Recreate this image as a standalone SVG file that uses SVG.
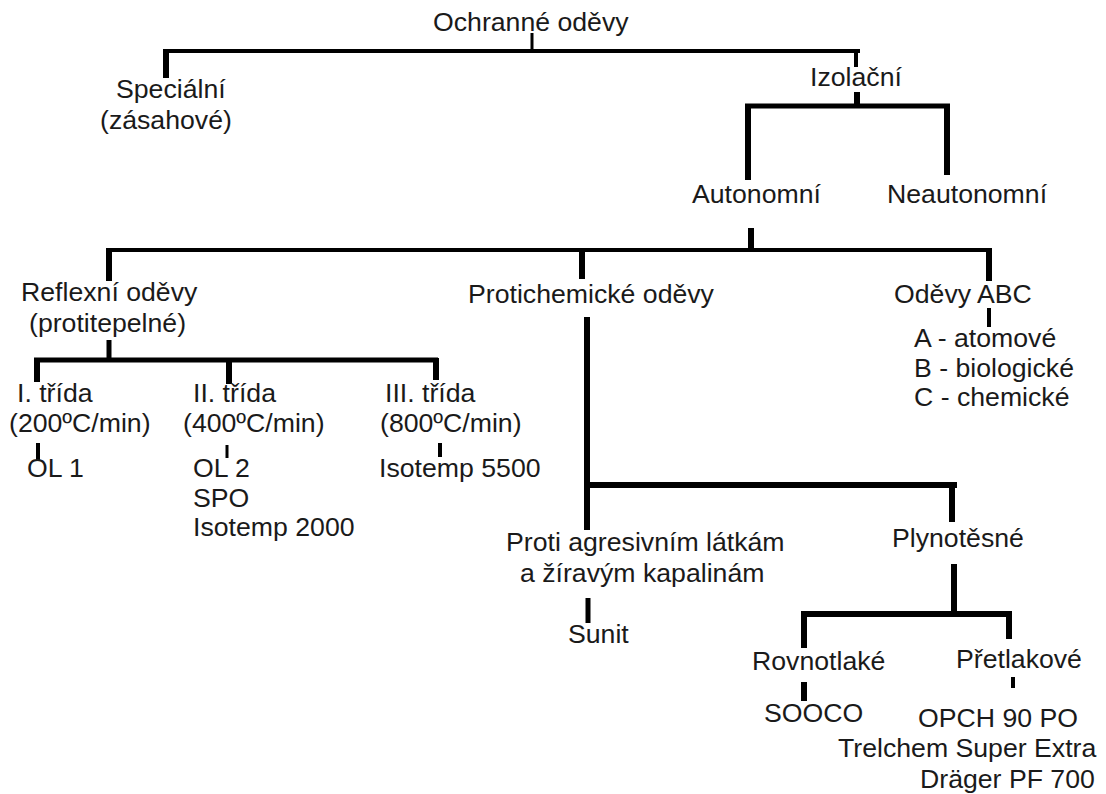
<svg xmlns="http://www.w3.org/2000/svg" width="1106" height="794" viewBox="0 0 1106 794">
<style>
text{font-family:"Liberation Sans",Arial,sans-serif;font-size:26.67px;fill:#1a1a1a}
line{stroke:#000;stroke-linecap:butt}
.t3{stroke-width:3}.t4{stroke-width:4}.t5{stroke-width:5}.t6{stroke-width:6}
</style>
<rect width="1106" height="794" fill="#fff"/>
<g id="connectors">
<line class="t3" x1="532" y1="33" x2="532" y2="51"/>
<line class="t4" x1="164" y1="51" x2="860" y2="51"/>
<line class="t6" x1="166" y1="49" x2="166" y2="78"/>
<line class="t4" x1="856" y1="49" x2="856" y2="67"/>
<line class="t6" x1="857" y1="92" x2="857" y2="107"/>
<line class="t5" x1="745" y1="106" x2="950" y2="106"/>
<line class="t6" x1="748" y1="104" x2="748" y2="180"/>
<line class="t6" x1="947" y1="104" x2="947" y2="175"/>
<line class="t6" x1="751" y1="228" x2="751" y2="250"/>
<line class="t4" x1="106" y1="250" x2="992" y2="250"/>
<line class="t6" x1="109" y1="248" x2="109" y2="281"/>
<line class="t6" x1="582" y1="248" x2="582" y2="279"/>
<line class="t6" x1="989" y1="248" x2="989" y2="281"/>
<line class="t5" x1="109" y1="340" x2="109" y2="360"/>
<line class="t5" x1="34" y1="360" x2="438" y2="360"/>
<line class="t6" x1="37" y1="358" x2="37" y2="382"/>
<line class="t6" x1="229" y1="358" x2="229" y2="384"/>
<line class="t6" x1="436" y1="358" x2="436" y2="380"/>
<line class="t4" x1="38" y1="443" x2="38" y2="460"/>
<line class="t3" x1="227" y1="445" x2="227" y2="458"/>
<line class="t4" x1="440" y1="443" x2="440" y2="457"/>
<line class="t4" x1="989" y1="308" x2="989" y2="327"/>
<line class="t6" x1="587" y1="317" x2="587" y2="530"/>
<line class="t6" x1="584" y1="485" x2="957" y2="485"/>
<line class="t6" x1="952" y1="482" x2="952" y2="522"/>
<line class="t5" x1="588" y1="598" x2="588" y2="623"/>
<line class="t6" x1="954" y1="564" x2="954" y2="617"/>
<line class="t6" x1="801" y1="614" x2="1012" y2="614"/>
<line class="t6" x1="804" y1="611" x2="804" y2="648"/>
<line class="t6" x1="1009" y1="611" x2="1009" y2="639"/>
<line class="t6" x1="804" y1="682" x2="804" y2="701"/>
<line class="t4" x1="1013" y1="677" x2="1013" y2="688"/>
</g>
<g id="n-ochranne"><text x="433" y="31">Ochranné oděvy</text></g>
<g id="n-specialni"><text x="116" y="98">Speciální</text><text x="100" y="129">(zásahové)</text></g>
<g id="n-izolacni"><text x="810" y="86">Izolační</text></g>
<g id="n-autonomni"><text x="692" y="203">Autonomní</text></g>
<g id="n-neautonomni"><text x="887" y="203">Neautonomní</text></g>
<g id="n-reflexni"><text x="21" y="301">Reflexní oděvy</text><text x="29" y="332">(protitepelné)</text></g>
<g id="n-protichemicke"><text x="468" y="303">Protichemické oděvy</text></g>
<g id="n-abc"><text x="894" y="303">Oděvy ABC</text></g>
<g id="n-abc-list"><text x="914" y="347">A - atomové</text><text x="914" y="377">B - biologické</text><text x="914" y="406">C - chemické</text></g>
<g id="n-trida1"><text x="17" y="402">I. třída</text><text x="9" y="432">(200ºC/min)</text></g>
<g id="n-trida2"><text x="193" y="402">II. třída</text><text x="183" y="432">(400ºC/min)</text></g>
<g id="n-trida3"><text x="385" y="402">III. třída</text><text x="380" y="432">(800ºC/min)</text></g>
<g id="n-ol1"><text x="27" y="477">OL 1</text></g>
<g id="n-ol2"><text x="193" y="477">OL 2</text><text x="193" y="507">SPO</text><text x="193" y="536">Isotemp 2000</text></g>
<g id="n-iso5500"><text x="379" y="477">Isotemp 5500</text></g>
<g id="n-proti"><text x="506" y="551">Proti agresivním látkám</text><text x="520" y="582">a žíravým kapalinám</text></g>
<g id="n-plynotesne"><text x="892" y="547">Plynotěsné</text></g>
<g id="n-sunit"><text x="568" y="643">Sunit</text></g>
<g id="n-rovnotlake"><text x="752" y="670">Rovnotlaké</text></g>
<g id="n-pretlakove"><text x="956" y="668">Přetlakové</text></g>
<g id="n-soocco"><text x="764" y="722">SOOCO</text></g>
<g id="n-pretlak-list"><text x="918" y="727">OPCH 90 PO</text><text x="838" y="757">Trelchem Super Extra</text><text x="920" y="788">Dräger PF 700</text></g>
</svg>
